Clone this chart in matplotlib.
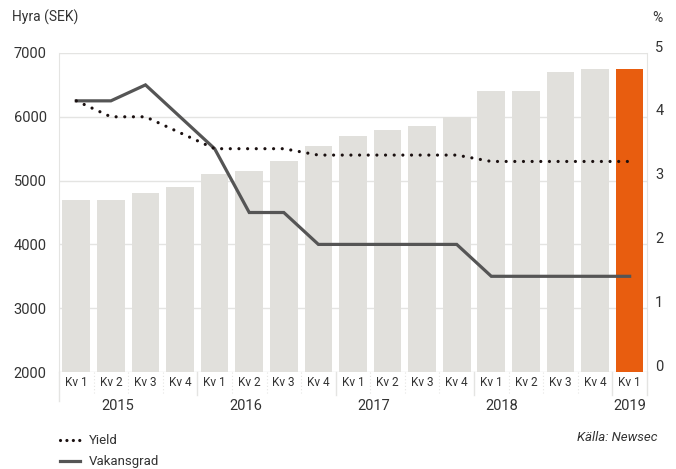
import matplotlib.pyplot as plt
from matplotlib.lines import Line2D
import matplotlib.transforms as mtransforms

plt.rcParams['font.family'] = ['Roboto', 'DejaVu Sans']

quarters = ['Kv 1', 'Kv 2', 'Kv 3', 'Kv 4'] * 4 + ['Kv 1']
years = ['2015', '2016', '2017', '2018', '2019']
hyra = [4700, 4700, 4800, 4900, 5100, 5150, 5300, 5550,
        5700, 5800, 5850, 6000, 6400, 6400, 6700, 6750, 6750]
yield_pct = [4.25, 4.0, 4.0, 3.75, 3.5, 3.5, 3.5, 3.4,
             3.4, 3.4, 3.4, 3.4, 3.3, 3.3, 3.3, 3.3, 3.3]
vakans_pct = [4.25, 4.25, 4.5, 4.0, 3.5, 2.5, 2.5, 2.0,
              2.0, 2.0, 2.0, 2.0, 1.5, 1.5, 1.5, 1.5, 1.5]

txt = '#333333'
grey_bar = '#e1e0dc'
orange = '#e85d0f'
grid_c = '#e4e4e2'

fig = plt.figure(figsize=(6.76, 4.69), dpi=100)
ax = fig.add_axes([0.0873, 0.2068, 0.8697, 0.6802])
x = list(range(len(hyra)))
colors = [grey_bar] * (len(hyra) - 1) + [orange]
ax.bar(x, [h - 2000 for h in hyra], bottom=2000, width=0.8, color=colors, zorder=2)
ax.set_xlim(-0.5, len(hyra) - 0.5)
ax.set_ylim(2000, 7000)
ax.set_yticks(range(2000, 7001, 1000))
ax.tick_params(axis='y', length=0, pad=9, labelsize=10.5, labelcolor=txt)
ax.set_xticks([])
ax.grid(axis='y', color=grid_c, lw=1, zorder=0)
for s in ['top', 'bottom']:
    ax.spines[s].set_visible(False)
for s in ['left', 'right']:
    ax.spines[s].set_color(grid_c)

ax2 = ax.twinx()
ax2.set_ylim(0, 5)
ax2.set_yticks(range(0, 6))
ax2.tick_params(axis='y', length=0, pad=6, labelsize=10.5, labelcolor=txt)
for lbl in ax2.get_yticklabels():
    lbl.set_transform(lbl.get_transform() + mtransforms.ScaledTranslation(0, 5 / 72, fig.dpi_scale_trans))
for s in ax2.spines.values():
    s.set_visible(False)
ax2.plot(x, vakans_pct, color='#555555', lw=2.3, solid_joinstyle='miter', zorder=3)
ax2.plot(x, yield_pct, color='#1a1010', lw=2.3, linestyle=(0, (0.01, 2.7)),
         dash_capstyle='round', zorder=4)

# category labels and separators
trans = mtransforms.blended_transform_factory(ax.transData, ax.transAxes)
for i, q in enumerate(quarters):
    ax.text(i, -0.033, q, transform=trans, ha='center', va='center',
            fontsize=8.5, color=txt)
for i in range(len(hyra) + 1):
    b = i - 0.5
    if i == 0:
        ax.plot([b, b], [0, -0.09], transform=trans, color=grid_c, lw=1, clip_on=False)
    elif i % 4 == 0 or i == len(hyra):
        ax.plot([b, b], [0, -0.072], transform=trans, color=grid_c, lw=1, clip_on=False)
    else:
        ax.plot([b, b], [0, -0.065], transform=trans, color=grid_c, lw=0.8,
                ls=(0, (1, 2)), clip_on=False)
year_pos = [1.2, 4.9, 8.6, 12.3, 16.0]
for c, yr in zip(year_pos, years):
    ax.text(c, -0.107, yr, transform=trans, ha='center', va='center',
            fontsize=10.5, color=txt)

fig.text(0.018, 0.962, 'Hyra (SEK)', fontsize=10, color=txt, va='center')
fig.text(0.973, 0.962, '%', fontsize=10, color=txt, va='center', ha='center')
fig.text(0.972, 0.068, 'Källa: Newsec', fontsize=9.5, color=txt, ha='right',
         va='center', style='italic')

handles = [Line2D([], [], color='#1a1010', lw=2.3, linestyle=(0, (0.01, 2.0)),
                  dash_capstyle='round'),
           Line2D([], [], color='#555555', lw=2.3)]
fig.legend(handles, ['Yield', 'Vakansgrad'], loc='upper left',
           bbox_to_anchor=(0.079, 0.088), frameon=False, fontsize=9.5,
           handlelength=1.5, handletextpad=0.7, labelspacing=0.6,
           labelcolor=txt, borderpad=0)

fig.savefig('out.png', dpi=100)
